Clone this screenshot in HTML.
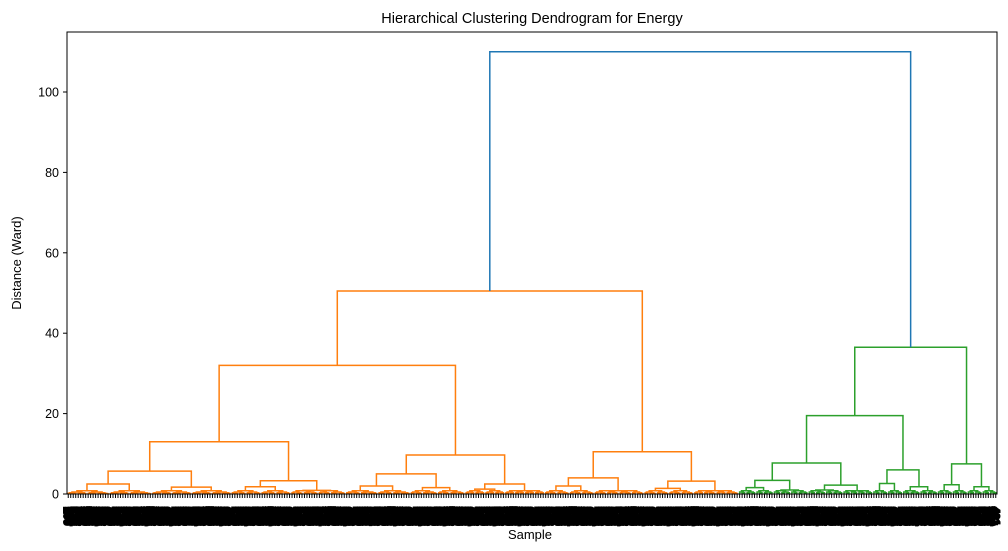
<!DOCTYPE html>
<html><head><meta charset="utf-8"><style>
body{margin:0;background:#fff;}
svg{display:block;font-family:"Liberation Sans","DejaVu Sans",sans-serif;}
</style></head><body>
<svg id="chart" width="1008" height="551" viewBox="0 0 1008 551" xmlns="http://www.w3.org/2000/svg">
<text x="532" y="23" text-anchor="middle" font-size="14.5">Hierarchical Clustering Dendrogram for Energy</text>
<text x="530" y="539" text-anchor="middle" font-size="13">Sample</text>
<text transform="translate(21,263) rotate(-90)" text-anchor="middle" font-size="13">Distance (Ward)</text>
<g id="links"></g>
<g id="yticks"></g>
<g id="xticks"></g>
<rect x="67" y="32" width="930" height="462" fill="none" stroke="#000" stroke-width="1"/>
</svg>
<script>
// bottom clusters: [height, leafCount]
const clusterHeights = [2.5,1.7,1.8,0.9,2.0,1.6,1.2,0.8,2.0,0.8,1.4,0.8, 1.6,1.0,1.0,0.8,2.6,1.8,2.3,1.8];
const clusterCounts  = [34,32,24,22,26,22,16,16,20,20,20,18, 14,14,14,12,12,14,12,12];
// internal merge heights
const orangeHeights = {top:50.5, a:32, b:10.5, a1:13, a2:9.7, a11:5.7, a12:3.3, a21:5.0, a22:2.5, b1:4.0, b2:3.2};
const greenHeights = {top:36.5, a:19.5, b:7.5, a1:7.7, a2:6.0, a11:3.4, a12:2.2};
const rootHeight = 110;
const subHeights = [0.8,0.5,0.3,0.15,0.08];
const yTicks = [0,20,40,60,80,100];

const NS="http://www.w3.org/2000/svg";
const X0=67,X1=997,Y0=494,PPU=4.02;
const N=clusterCounts.reduce((a,b)=>a+b,0);
const unit=(X1-X0)/N;
const ys=v=>Y0-v*PPU;
const C=i=>({h:clusterHeights[i],n:clusterCounts[i]});
const o=orangeHeights,g=greenHeights;
const orange={h:o.top,c:[{h:o.a,c:[{h:o.a1,c:[{h:o.a11,c:[C(0),C(1)]},{h:o.a12,c:[C(2),C(3)]}]},{h:o.a2,c:[{h:o.a21,c:[C(4),C(5)]},{h:o.a22,c:[C(6),C(7)]}]}]},{h:o.b,c:[{h:o.b1,c:[C(8),C(9)]},{h:o.b2,c:[C(10),C(11)]}]}]};
const green={h:g.top,c:[{h:g.a,c:[{h:g.a1,c:[{h:g.a11,c:[C(12),C(13)]},{h:g.a12,c:[C(14),C(15)]}]},{h:g.a2,c:[C(16),C(17)]}]},{h:g.b,c:[C(18),C(19)]}]};

const links=document.getElementById('links');
function link(xl,yl,xr,yr,h,col){
  const p=document.createElementNS(NS,'path');
  
  
  p.setAttribute('d',`M${xl},${ys(yl)}V${ys(h)}H${xr}V${ys(yr)}`);
  p.setAttribute('fill','none');p.setAttribute('stroke',col);p.setAttribute('stroke-width','1.5');
  links.appendChild(p);
}
let cursor=0;
function leafGroup(n,depth,col){
  if(n<=1){const x=X0+(cursor+0.5)*unit;cursor++;return {x:x,h:0};}
  const l=Math.floor(n/2);
  const h=subHeights[Math.min(depth,subHeights.length-1)];
  const a=leafGroup(l,depth+1,col),b=leafGroup(n-l,depth+1,col);
  link(a.x,a.h,b.x,b.h,h,col);
  return {x:(a.x+b.x)/2,h:h};
}
function draw(node,col){
  if(node.n!==undefined){
    const l=Math.floor(node.n/2);
    const a=leafGroup(l,0,col),b=leafGroup(node.n-l,0,col);
    link(a.x,a.h,b.x,b.h,node.h,col);
    return {x:(a.x+b.x)/2,h:node.h};
  }
  const a=draw(node.c[0],col),b=draw(node.c[1],col);
  link(a.x,a.h,b.x,b.h,node.h,col);
  return {x:(a.x+b.x)/2,h:node.h};
}
const ro=draw(orange,'#ff7f0e');
const rg=draw(green,'#2ca02c');
link(ro.x,ro.h,rg.x,rg.h,rootHeight,'#1f77b4');

const yt=document.getElementById('yticks');
yTicks.forEach(v=>{
  const t=document.createElementNS(NS,'line');
  
  
  t.setAttribute('x1',X0-4);t.setAttribute('x2',X0);t.setAttribute('y1',ys(v));t.setAttribute('y2',ys(v));t.setAttribute('stroke','#000');
  yt.appendChild(t);
  const s=document.createElementNS(NS,'text');
  
  
  s.setAttribute('x',X0-8);s.setAttribute('y',ys(v)+4.5);s.setAttribute('text-anchor','end');s.setAttribute('font-size','12.5');
  s.textContent=v;yt.appendChild(s);
});
const xt=document.getElementById('xticks');
for(let i=0;i<N;i++){
  const x=X0+(i+0.5)*unit;
  const t=document.createElementNS(NS,'line');
  
  
  t.setAttribute('x1',x);t.setAttribute('x2',x);t.setAttribute('y1',Y0);t.setAttribute('y2',Y0+4);t.setAttribute('stroke','#000');
  xt.appendChild(t);
  const s=document.createElementNS(NS,'text');
  
  
  s.setAttribute('transform',`translate(${x-4},507) rotate(90)`);
  s.setAttribute('font-size','11');s.setAttribute('font-weight','bold');
  s.setAttribute('stroke','#000');s.setAttribute('stroke-width','2');
  s.textContent=String(100+((i*37)%900));
  xt.appendChild(s);
}
</script>
</body></html>
